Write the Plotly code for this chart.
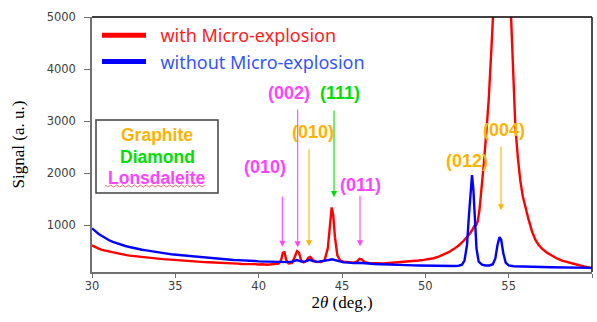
import plotly.graph_objects as go

# ---------------- data ----------------
red_x = [30.0, 30.2, 30.4, 30.6, 30.8, 31.0, 31.25, 31.5, 31.75, 32.0, 32.25, 32.5, 32.75, 33.0,
         33.25, 33.5, 33.75, 34.0, 34.25, 34.5, 34.75, 35.0, 35.25, 35.5, 35.75, 36.0, 36.25, 36.5,
         36.75, 37.0, 37.25, 37.5, 37.75, 38.0, 38.25, 38.5, 38.75, 39.0, 39.25, 39.5, 39.75, 40.0,
         40.25, 40.5, 40.75, 41.0, 41.2, 41.35, 41.45, 41.55, 41.65, 41.8, 42.0, 42.15, 42.3, 42.42,
         42.55, 42.7, 42.85, 43.0, 43.1, 43.25, 43.45, 43.7, 43.95, 44.15, 44.3, 44.38, 44.47, 44.58,
         44.72, 44.9, 45.1, 45.4, 45.7, 45.9, 46.05, 46.18, 46.35, 46.6, 46.9, 47.2, 47.5, 47.8, 48.1,
         48.4, 48.7, 49.0, 49.3, 49.6, 49.9, 50.2, 50.5, 50.8, 51.1, 51.4, 51.7, 52.0, 52.3, 52.5,
         52.7, 52.85, 52.95, 53.05, 53.15, 53.25, 53.35, 53.5, 53.65, 53.8, 53.95, 54.1, 54.3, 54.6,
         54.9, 55.1, 55.2, 55.3, 55.4, 55.55, 55.7, 55.85, 56.0, 56.2, 56.4, 56.6, 56.8, 57.0, 57.3,
         57.6, 57.9, 58.2, 58.5, 58.8, 59.1, 59.4, 59.7, 60.0]
red_y = [610, 575, 550, 525, 510, 490, 470, 455, 440, 428, 415, 405, 398, 385,
         380, 368, 362, 355, 348, 342, 335, 330, 325, 318, 312, 308, 300, 298,
         290, 288, 282, 280, 272, 270, 266, 262, 260, 255, 258, 250, 252, 245,
         250, 240, 248, 255, 262, 330, 470, 480, 330, 265, 275, 380, 500, 470,
         320, 285, 310, 380, 390, 330, 295, 290, 320, 560, 1100, 1340, 1200, 760,
         420, 320, 300, 285, 280, 300, 355, 345, 290, 275, 268, 262, 265, 272, 278,
         285, 295, 302, 310, 320, 332, 345, 365, 395, 430, 480, 540, 610, 700, 770,
         850, 930, 990, 1000, 1080, 1300, 1600, 2150, 2750, 3400, 4300, 5300, 7000, 8500,
         7000, 5400, 4500, 3600, 2900, 2300, 1850, 1550, 1330, 1100, 880, 720, 620, 550, 470,
         410, 360, 320, 290, 260, 235, 215, 195, 175]

blue_x = [30.0, 30.2, 30.4, 30.6, 30.8, 31.0, 31.25, 31.5, 31.75, 32.0, 32.25, 32.5, 32.75, 33.0,
          33.25, 33.5, 33.75, 34.0, 34.25, 34.5, 34.75, 35.0, 35.25, 35.5, 35.75, 36.0, 36.25, 36.5,
          36.75, 37.0, 37.25, 37.5, 37.75, 38.0, 38.25, 38.5, 38.75, 39.0, 39.25, 39.5, 39.75, 40.0,
          40.25, 40.5, 40.75, 41.0, 41.25, 41.5, 41.75, 42.0, 42.3, 42.55, 42.8, 43.05, 43.3, 43.6,
          43.9, 44.2, 44.4, 44.6, 44.85, 45.1, 45.4, 45.7, 46.0, 46.3, 46.6, 46.9, 47.2, 47.5, 47.8,
          48.1, 48.4, 48.7, 49.0, 49.3, 49.6, 49.9, 50.2, 50.5, 50.8, 51.1, 51.4, 51.7, 52.0, 52.2,
          52.35, 52.5, 52.62, 52.72, 52.8, 52.88, 52.97, 53.07, 53.2, 53.4, 53.6, 53.85, 54.05, 54.2,
          54.33, 54.45, 54.55, 54.68, 54.82, 55.0, 55.3, 55.6, 56.0, 56.5, 57.0, 57.5, 58.0, 58.5,
          59.0, 59.5, 60.0]
blue_y = [940, 880, 830, 790, 750, 715, 680, 650, 625, 600, 580, 560, 545, 528,
          515, 500, 488, 475, 462, 452, 440, 432, 420, 412, 405, 395, 388, 380,
          372, 368, 360, 352, 350, 342, 338, 330, 328, 320, 318, 312, 310, 305,
          302, 298, 300, 292, 295, 285, 290, 300, 330, 300, 305, 335, 305, 300,
          310, 330, 345, 325, 300, 285, 280, 270, 278, 265, 262, 255, 250, 248, 242,
          240, 238, 232, 230, 228, 225, 222, 220, 218, 215, 215, 212, 215, 220, 240,
          320, 620, 1200, 1750, 1960, 1700, 1100, 550, 300, 240, 225, 225, 250, 360,
          620, 770, 720, 460, 280, 225, 210, 205, 200, 198, 195, 192, 190, 188,
          185, 182, 180]

series_names = ["with Micro-explosion", "without Micro-explosion"]

# peak labels: text, label x, label y, colour
peak_labels = ["(010)", "(002)", "(010)", "(111)", "(011)", "(012)", "(004)"]
peak_label_x = [40.38, 41.82, 43.23, 44.85, 46.08, 52.50, 54.72]
peak_label_y = [2115, 3544, 2794, 3532, 1769, 2231, 2827]
# arrows: x, tail y, tip y
arrow_x = [41.42, 42.34, 43.02, 44.52, 46.08, 54.54]
arrow_tail_y = [1577, 3250, 2481, 3231, 1596, 2538]
arrow_tip_y = [583, 577, 596, 1538, 596, 1288]

phase_names = ["Graphite", "Diamond", "Lonsdaleite"]

x_ticks = [30, 35, 40, 45, 50, 55, 60]
y_ticks = [1000, 2000, 3000, 4000, 5000]

# ---------------- styling ----------------
RED = "#FF0000"
BLUE = "#0000FF"
ORANGE = "#FFB300"
GREEN = "#00E000"
MAGENTA = "#FF44FF"
label_colors = [MAGENTA, MAGENTA, ORANGE, GREEN, MAGENTA, ORANGE, ORANGE]
arrow_colors = [MAGENTA, MAGENTA, ORANGE, GREEN, MAGENTA, ORANGE]
phase_colors = [ORANGE, GREEN, MAGENTA]

fig = go.Figure()
fig.add_trace(go.Scatter(x=red_x, y=red_y, mode="lines", line=dict(color=RED, width=2.4),
                         showlegend=False))
fig.add_trace(go.Scatter(x=blue_x, y=blue_y, mode="lines", line=dict(color=BLUE, width=2.4),
                         showlegend=False))
# legend entries (thicker lines, coloured text)
fig.add_trace(go.Scatter(x=[None], y=[None], mode="lines", line=dict(color=RED, width=5),
                         name="&nbsp;&nbsp;<span style='color:#FF2020'>%s</span>" % series_names[0]))
fig.add_trace(go.Scatter(x=[None], y=[None], mode="lines", line=dict(color=BLUE, width=5),
                         name="&nbsp;&nbsp;<span style='color:#3355FF'>%s</span>" % series_names[1]))

annotations = []
for t, x, y, c in zip(peak_labels, peak_label_x, peak_label_y, label_colors):
    annotations.append(dict(x=x, y=y, xref="x", yref="y", text="<b>%s</b>" % t, showarrow=False,
                            font=dict(family="Liberation Sans, Arial", size=18, color=c)))
for x, yt, yh, c in zip(arrow_x, arrow_tail_y, arrow_tip_y, arrow_colors):
    annotations.append(dict(x=x, y=yh, xref="x", yref="y", ax=x, ay=yt, axref="x", ayref="y",
                            text="", showarrow=True, arrowhead=2, arrowsize=1.1, arrowwidth=1.1,
                            arrowcolor=c))

# phase key box
box_x0, box_x1 = 0.008, 0.252
box_y0, box_y1 = 0.31, 0.596
phase_y = [0.537, 0.451, 0.369]
for n, c, py in zip(phase_names, phase_colors, phase_y):
    annotations.append(dict(x=0.13, y=py, xref="paper", yref="paper", text="<b>%s</b>" % n,
                            showarrow=False, xanchor="center", yanchor="middle",
                            font=dict(family="Liberation Sans, Arial", size=17.5, color=c)))

shapes = [
    dict(type="rect", xref="paper", yref="paper", x0=box_x0, x1=box_x1, y0=box_y0, y1=box_y1,
         line=dict(color="#404040", width=1.5), fillcolor="rgba(0,0,0,0)"),
    # top and right frame
    dict(type="line", xref="paper", yref="paper", x0=0, x1=1, y0=1, y1=1,
         line=dict(color="black", width=1.6)),
    dict(type="line", xref="paper", yref="paper", x0=1, x1=1, y0=0, y1=1,
         line=dict(color="#202020", width=1.6)),
]
# spell-check style wavy underline under "Lonsdaleite"
wx0, wx1, wy = 0.026, 0.226, 0.337
pts = []
n_w = 34
for i in range(n_w + 1):
    xx = wx0 + (wx1 - wx0) * i / n_w
    yy = wy + (0.004 if i % 2 == 0 else -0.004)
    pts.append(("M" if i == 0 else "L") + "%.4f,%.4f" % (xx, yy))
shapes.append(dict(type="path", xref="paper", yref="paper", path=" ".join(pts),
                   line=dict(color="#E87070", width=1)))

fig.update_layout(
    width=597, height=322,
    margin=dict(l=92, r=5, t=17, b=50, autoexpand=False),
    paper_bgcolor="white", plot_bgcolor="white",
    showlegend=True,
    legend=dict(x=0.01, y=1.0, xanchor="left", yanchor="top", bgcolor="rgba(0,0,0,0)",
                font=dict(family="Noto Sans", size=18), itemwidth=44,
                tracegroupgap=0),
    xaxis=dict(range=[30, 60], tickvals=x_ticks, ticks="outside", ticklen=4, tickwidth=1.2,
               tickcolor="#707070", showline=True, linecolor="#707070", linewidth=1.5,
               showgrid=False, zeroline=False, automargin=False, ticklabelstandoff=-2,
               tickfont=dict(family="DejaVu Sans", size=11.5, color="#404040"),
               title=dict(text="2<i>θ</i> (deg.)", standoff=4,
                          font=dict(family="Liberation Serif, Times New Roman", size=17,
                                    color="black"))),
    yaxis=dict(range=[100, 5000], tickvals=y_ticks, ticks="outside", ticklen=6, tickwidth=1.2,
               tickcolor="#707070", showline=True, linecolor="#707070", linewidth=1.5,
               showgrid=False, zeroline=False, automargin=False, ticklabelstandoff=6,
               tickfont=dict(family="DejaVu Sans", size=11.5, color="#404040"),
               title=dict(text="Signal (a. u.)", standoff=18,
                          font=dict(family="Liberation Serif, Times New Roman", size=17,
                                    color="black"))),
    annotations=annotations,
    shapes=shapes,
)

fig.write_html("out.html")
